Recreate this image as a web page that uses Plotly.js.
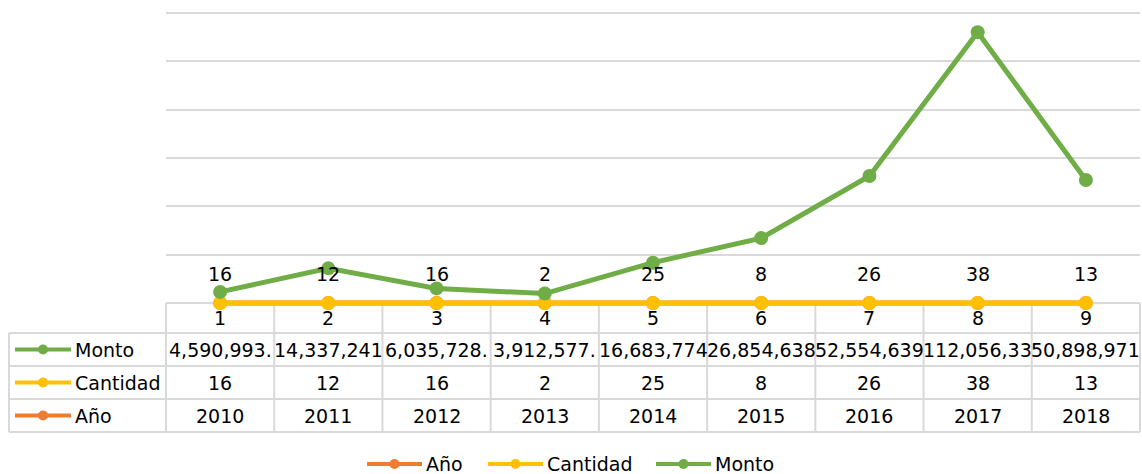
<!DOCTYPE html>
<html>
<head>
<meta charset="utf-8">
<script src="https://cdn.plot.ly/plotly-3.0.1.min.js"></script>
<style>
  html, body { margin: 0; padding: 0; background: #fff; }
  #chart { width: 1142px; height: 474px; }
</style>
</head>
<body>
<div id="chart"></div>
<script>
// data
var cats = [1, 2, 3, 4, 5, 6, 7, 8, 9];
var anios = [2010, 2011, 2012, 2013, 2014, 2015, 2016, 2017, 2018];
var cantidad = [16, 12, 16, 2, 25, 8, 26, 38, 13];
var monto = [4590993.25, 14337241.5, 6035728.4, 3912577.6, 16683774.2,
  26854638.1, 52554639.7, 112056330.5, 50898971.3];

var colors = { anio: "#ED7D31", cantidad: "#FFC000", monto: "#70AD47" };
var FONT = "DejaVu Sans, Liberation Sans, Arial, sans-serif";
var FS = 19;
var grid = "#D9D9D9";

// value axis: 0 sits at pixel 303, 120M at pixel 13
var zeroPx = 303, topPx = 13, yTop = 120000000;
var unitPerPx = yTop / (zeroPx - topPx);
// plot area a bit larger than the value range so the line at 0 is not clipped
var plotL = 166, plotR = 1140, plotT = 11, plotB = 310;
var plotW = plotR - plotL, plotH = plotB - plotT;
var yMax = yTop + (topPx - plotT) * unitPerPx;
var yMin = -(plotB - zeroPx) * unitPerPx;
function px(p) { return (p - plotL) / plotW; }
function py(p) { return (plotB - p) / plotH; }

// cell text in the data table is cut to the cell width (10 chars)
function montoText(v) {
  return v.toLocaleString("en-US", { minimumFractionDigits: 2, maximumFractionDigits: 2 }).slice(0, 10);
}

var rows = [
  { name: "Monto", color: colors.monto, texts: monto.map(montoText), cy: 349.5 },
  { name: "Cantidad", color: colors.cantidad, texts: cantidad.map(String), cy: 382.5 },
  { name: "A\u00f1o", color: colors.anio, texts: anios.map(String), cy: 415.5 }
];

var traces = [
  {
    x: cats, y: anios, mode: "lines+markers", name: "A\u00f1o",
    line: { color: colors.anio, width: 5 }, marker: { color: colors.anio, size: 14 },
    hoverinfo: "skip"
  },
  {
    x: cats, y: cantidad, mode: "lines+markers", name: "Cantidad",
    line: { color: colors.cantidad, width: 5 }, marker: { color: colors.cantidad, size: 14 },
    hoverinfo: "skip"
  },
  {
    x: cats, y: monto, mode: "lines+markers", name: "Monto",
    line: { color: colors.monto, width: 5 }, marker: { color: colors.monto, size: 14 },
    hoverinfo: "skip"
  }
];

var shapes = [];
var annotations = [];
var txtFont = { family: FONT, size: FS, color: "#000" };

// data labels of Cantidad above its points
for (var i = 0; i < cats.length; i++) {
  annotations.push({
    x: cats[i], y: cantidad[i], xref: "x", yref: "y", yshift: 29,
    text: String(cantidad[i]), showarrow: false, font: txtFont
  });
  // category labels in the header row of the table
  annotations.push({
    x: cats[i], y: py(318), xref: "x", yref: "paper", yanchor: "middle",
    text: String(cats[i]), showarrow: false, font: txtFont
  });
}

// table: horizontal lines (top of header row is the category axis line)
shapes.push({ type: "line", xref: "paper", yref: "paper", x0: 0, x1: 1, y0: py(zeroPx), y1: py(zeroPx), layer: "below", line: { color: grid, width: 2 } });
[333, 366, 399, 432].forEach(function (p) {
  shapes.push({
    type: "line", xref: "paper", yref: "paper", x0: px(9), x1: 1, y0: py(p), y1: py(p),
    layer: "below", line: { color: grid, width: 2 }
  });
});
// table: left frame and outer edges
shapes.push({ type: "line", xref: "paper", yref: "paper", x0: px(9), x1: px(9), y0: py(333), y1: py(432), layer: "below", line: { color: grid, width: 2 } });
shapes.push({ type: "line", xref: "paper", yref: "paper", x0: 0, x1: 0, y0: py(zeroPx), y1: py(432), layer: "below", line: { color: grid, width: 2 } });
shapes.push({ type: "line", xref: "paper", yref: "paper", x0: 1, x1: 1, y0: py(zeroPx), y1: py(432), layer: "below", line: { color: grid, width: 2 } });
// table: column boundaries between categories
for (var k = 0; k < cats.length - 1; k++) {
  var xb = (cats[k] + cats[k + 1]) / 2;
  shapes.push({ type: "line", xref: "x", yref: "paper", x0: xb, x1: xb, y0: py(zeroPx), y1: py(432), layer: "below", line: { color: grid, width: 2 } });
}

// table rows: legend key, name, cell values
rows.forEach(function (r) {
  shapes.push({ type: "line", xref: "paper", yref: "paper", x0: px(15), x1: px(71), y0: py(r.cy), y1: py(r.cy), line: { color: r.color, width: 4 } });
  shapes.push({
    type: "circle", xref: "paper", yref: "paper", xsizemode: "pixel", ysizemode: "pixel",
    xanchor: px(43), yanchor: py(r.cy), x0: -5, x1: 5, y0: -5, y1: 5,
    fillcolor: r.color, line: { width: 0 }
  });
  annotations.push({
    x: px(73), y: py(r.cy), xref: "paper", yref: "paper", xanchor: "left", yanchor: "middle",
    text: r.name, showarrow: false, font: txtFont
  });
  for (var j = 0; j < cats.length; j++) {
    annotations.push({
      x: cats[j], y: py(r.cy), xref: "x", yref: "paper", yanchor: "middle",
      text: r.texts[j], showarrow: false, font: txtFont
    });
  }
});

// bottom legend
var legendItems = [
  { name: "A\u00f1o", color: colors.anio, x: 367 },
  { name: "Cantidad", color: colors.cantidad, x: 488 },
  { name: "Monto", color: colors.monto, x: 656 }
];
legendItems.forEach(function (it) {
  shapes.push({ type: "line", xref: "paper", yref: "paper", x0: px(it.x), x1: px(it.x + 55), y0: py(464), y1: py(464), line: { color: it.color, width: 4 } });
  shapes.push({
    type: "circle", xref: "paper", yref: "paper", xsizemode: "pixel", ysizemode: "pixel",
    xanchor: px(it.x + 27.5), yanchor: py(464), x0: -5, x1: 5, y0: -5, y1: 5,
    fillcolor: it.color, line: { width: 0 }
  });
  annotations.push({
    x: px(it.x + 57), y: py(464), xref: "paper", yref: "paper", xanchor: "left", yanchor: "middle",
    text: it.name, showarrow: false, font: txtFont
  });
});

var layout = {
  width: 1142,
  height: 474,
  margin: { l: plotL, r: 1142 - plotR, t: plotT, b: 474 - plotB, pad: 0 },
  paper_bgcolor: "#fff",
  plot_bgcolor: "rgba(0,0,0,0)",
  showlegend: false,
  font: txtFont,
  xaxis: {
    range: [0.5, 9.5],
    showticklabels: false,
    ticks: "",
    showgrid: false,
    zeroline: false,
    showline: false,
    fixedrange: true
  },
  yaxis: {
    range: [yMin, yMax],
    tick0: 0,
    dtick: 20000000,
    showticklabels: false,
    ticks: "",
    showgrid: true,
    gridcolor: grid,
    gridwidth: 2,
    zeroline: false,
    showline: false,
    fixedrange: true
  },
  shapes: shapes,
  annotations: annotations
};

Plotly.newPlot("chart", traces, layout, { displayModeBar: false, staticPlot: true });
</script>
</body>
</html>
